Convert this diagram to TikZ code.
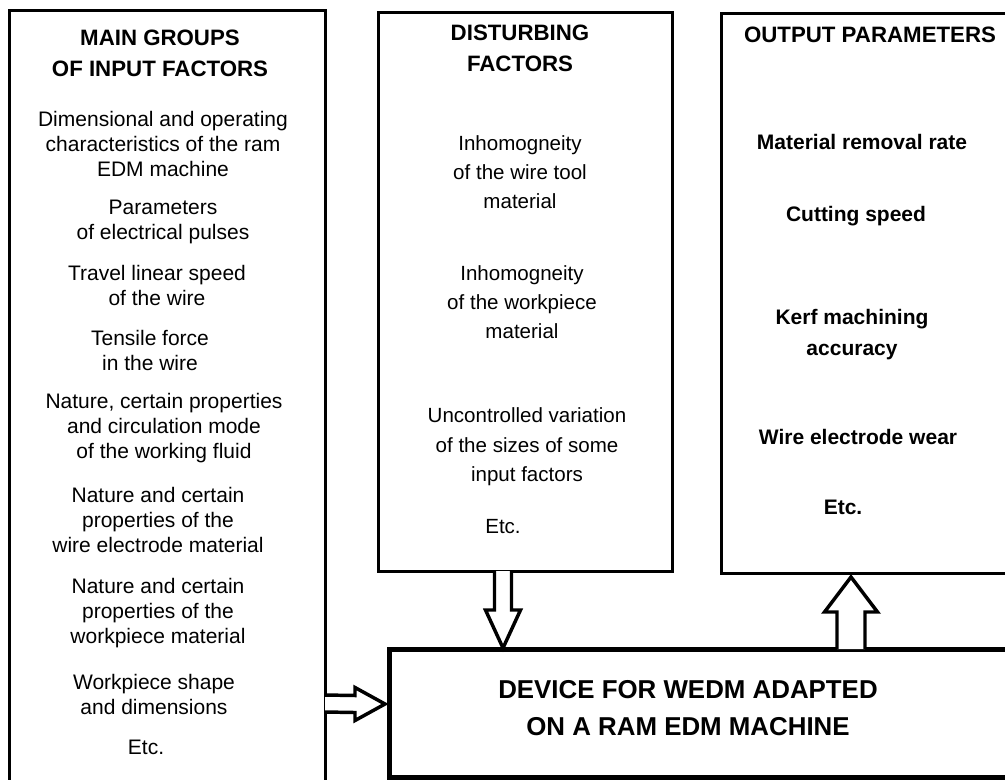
\documentclass[tikz,border=0pt]{standalone}
\usepackage{fontspec}
\setmainfont{Liberation Sans}
\usetikzlibrary{calc}
\tikzstyle{frame_box} = [
    rectangle,
    draw=black,
    line width=2.25pt,
    inner sep=0pt,
    outer sep=0pt
]
\tikzstyle{device_box} = [
    frame_box,
    line width=3.75pt
]
\tikzstyle{head_text} = [
    font=\fontsize{16.7}{23.5}\selectfont\bfseries,
    align=center,
    inner sep=0pt
]
\tikzstyle{input_text} = [
    font=\fontsize{15.75}{18.75}\selectfont,
    align=center,
    inner sep=0pt
]
\tikzstyle{disturb_text} = [
    font=\fontsize{15.4}{22}\selectfont,
    align=center,
    inner sep=0pt
]
\tikzstyle{output_text} = [
    font=\fontsize{15.75}{23}\selectfont\bfseries,
    align=center,
    inner sep=0pt
]
\tikzstyle{device_text} = [
    font=\fontsize{19.4}{27.75}\selectfont\bfseries,
    align=center,
    inner sep=0pt
]
\tikzstyle{block_arrow} = [
    draw=black,
    fill=white,
    line width=2.6pt,
    line join=miter
]
\begin{document}
\begin{tikzpicture}[x=0.75pt, y=-0.75pt]
\useasboundingbox (0,0) rectangle (1005,779);

% frames
\node [frame_box, minimum width=237pt, minimum height=592.5pt] (input) at (167,405) {};
\node [frame_box, minimum width=220.5pt, minimum height=419.25pt] (disturb) at (525,291.5) {};
\node [frame_box, minimum width=231.75pt, minimum height=420pt] (output) at (875.5,293) {};
\node [device_box, minimum width=480.75pt, minimum height=96pt] (device) at (709.5,713) {};

% input factors
\node [head_text] (input_head) at (160,53.5) {MAIN GROUPS\\OF INPUT FACTORS};
\node [input_text] (in_machine) at (163,143.5) {Dimensional and operating\\characteristics of the ram\\EDM machine};
\node [input_text] (in_pulses) at (163,221.5) {Parameters\\of electrical pulses};
\node [input_text] (in_speed) at (157,285.5) {Travel linear speed\\of the wire};
\node [input_text] (in_force) at (150,350) {Tensile force\\in the wire};
\node [input_text] (in_fluid) at (164,428) {Nature, certain properties\\and circulation mode\\of the working fluid};
\node [input_text] (in_wire) at (158,519.5) {Nature and certain\\properties of the\\wire electrode material};
\node [input_text] (in_piece) at (158,613) {Nature and certain\\properties of the\\workpiece material};
\node [input_text] (in_shape) at (154,694) {Workpiece shape\\and dimensions};
\node [input_text] (in_etc) at (146,747) {Etc.};

% disturbing factors
\node [head_text] (disturb_head) at (520,48) {DISTURBING\\FACTORS};
\node [disturb_text] (dis_wire) at (520,172) {Inhomogneity\\of the wire tool\\material};
\node [disturb_text] (dis_piece) at (522,302) {Inhomogneity\\of the workpiece\\material};
\node [disturb_text] (dis_sizes) at (527,447) {Uncontrolled variation\\of the sizes of some\\input factors};
\node [disturb_text] (dis_etc) at (503,527) {Etc.};

% output parameters
\node [head_text] (output_head) at (870,35) {OUTPUT PARAMETERS};
\node [output_text] (out_rate) at (862,142) {Material removal rate};
\node [output_text] (out_speed) at (856,216) {Cutting speed};
\node [output_text] (out_kerf) at (852,334.5) {Kerf machining\\accuracy};
\node [output_text] (out_wear) at (858,437) {Wire electrode wear};
\node [output_text] (out_etc) at (843,507) {Etc.};

% device
\node [device_text] (device_label) at (688,708.5) {DEVICE FOR WEDM ADAPTED\\ON A RAM EDM MACHINE};

% block arrows
\coordinate (dn_from) at ($(disturb.south)+(-22,0)$);
\coordinate (dn_to) at ($(device.north)+(-206.5,-1)$);
\draw [block_arrow] ($(dn_from)+(-8.5,0)$) -- ($(dn_from)+(-8.5,39)$)
    -- ($(dn_from)+(-17.5,39)$) -- (dn_to) -- ($(dn_from)+(17.5,39)$)
    -- ($(dn_from)+(8.5,39)$) -- ($(dn_from)+(8.5,0)$);

\coordinate (up_from) at ($(device.north)+(141.5,0)$);
\coordinate (up_to) at ($(output.south)+(-24.5,4)$);
\draw [block_arrow] ($(up_from)+(-14,0)$) -- ($(up_to)+(-14,35)$)
    -- ($(up_to)+(-26.5,35)$) -- (up_to) -- ($(up_to)+(26.5,35)$)
    -- ($(up_to)+(14,35)$) -- ($(up_from)+(14,0)$);

\coordinate (rt_from) at ($(input.east)+(0,298.5)$);
\coordinate (rt_to) at ($(device.west)+(-4,-9)$);
\draw [block_arrow] ($(rt_from)+(0,-8.5)$) -- ($(rt_to)+(-30,-8.5)$)
    -- ($(rt_to)+(-30,-16.5)$) -- (rt_to) -- ($(rt_to)+(-30,16.5)$)
    -- ($(rt_to)+(-30,8.5)$) -- ($(rt_from)+(0,8.5)$);
\end{tikzpicture}
\end{document}
